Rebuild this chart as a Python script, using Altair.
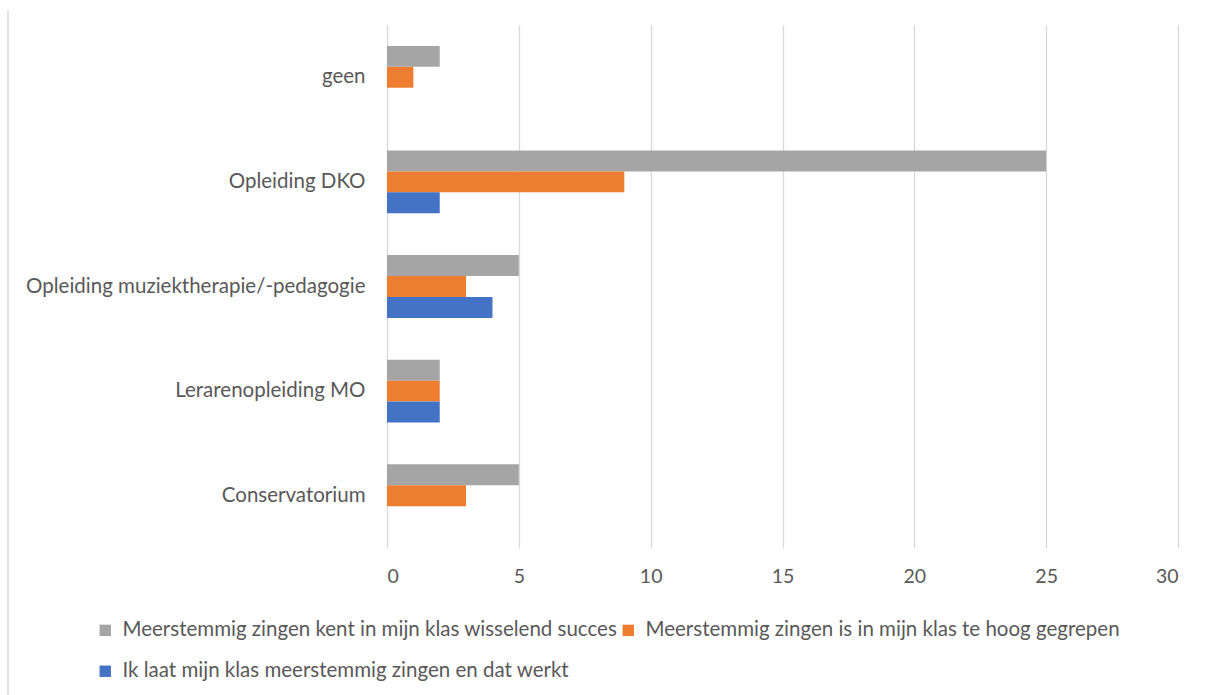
import altair as alt
import pandas as pd

categories = [
    "geen",
    "Opleiding DKO",
    "Opleiding muziektherapie/-pedagogie",
    "Lerarenopleiding MO",
    "Conservatorium",
]
series = [
    "Meerstemmig zingen kent in mijn klas wisselend succes",
    "Meerstemmig zingen is in mijn klas te hoog gegrepen",
    "Ik laat mijn klas meerstemmig zingen en dat werkt",
]
colors = ["#A5A5A5", "#ED7D31", "#4472C4"]
wisselend = [2, 25, 5, 2, 5]
te_hoog = [1, 9, 3, 2, 3]
werkt = [0, 2, 4, 2, 0]

rows = []
for i, cat in enumerate(categories):
    for s, vals in zip(series, [wisselend, te_hoog, werkt]):
        rows.append({"categorie": cat, "reeks": s, "aantal": vals[i]})
df = pd.DataFrame(rows)

FONT = "Lato"
TEXT = "#595959"

bars = alt.Chart(df).mark_bar().encode(
    y=alt.Y(
        "categorie:N",
        sort=categories,
        title=None,
        scale=alt.Scale(paddingInner=0.4, paddingOuter=0.2),
        axis=alt.Axis(
            domain=False, ticks=False, grid=False, labelPadding=22,
            labelFontSize=20.5, labelColor=TEXT, labelFont=FONT, labelLimit=500,
        ),
    ),
    yOffset=alt.YOffset("reeks:N", sort=series),
    x=alt.X(
        "aantal:Q",
        title=None,
        scale=alt.Scale(domain=[0, 30], nice=False),
        axis=alt.Axis(
            values=[0, 5, 10, 15, 20, 25, 30], domain=False, ticks=False,
            labelPadding=19, labelFontSize=19.5, labelColor=TEXT, labelFont=FONT,
            gridColor="#D9D9D9", gridWidth=1.3,
        ),
    ),
    color=alt.Color(
        "reeks:N",
        sort=series,
        scale=alt.Scale(domain=series, range=colors),
        legend=alt.Legend(
            title=None, orient="none", legendX=-292, legendY=595,
            direction="horizontal", columns=2, symbolType="square",
            symbolSize=130, symbolStrokeWidth=0, labelFontSize=20.5,
            labelColor=TEXT, labelFont=FONT, labelLimit=700,
            columnPadding=0, rowPadding=20, labelOffset=7,
        ),
    ),
)

# thin frame line along the left edge
frame = alt.Chart(pd.DataFrame({"x": [0]})).mark_rule(
    color="#D9D9D9", strokeWidth=1.5
).encode(x=alt.value(-379), y=alt.value(-15), y2=alt.value(700))

chart = (
    alt.layer(frame, bars)
    .properties(
        width=791, height=523,
        padding={"left": 387, "top": 25, "right": 36, "bottom": 147},
        autosize=alt.AutoSizeParams(type="none"),
        background="white",
    )
    .configure_view(stroke="transparent", strokeWidth=0)
)

chart.save("out.html", embed_options={"renderer": "svg", "actions": False})
